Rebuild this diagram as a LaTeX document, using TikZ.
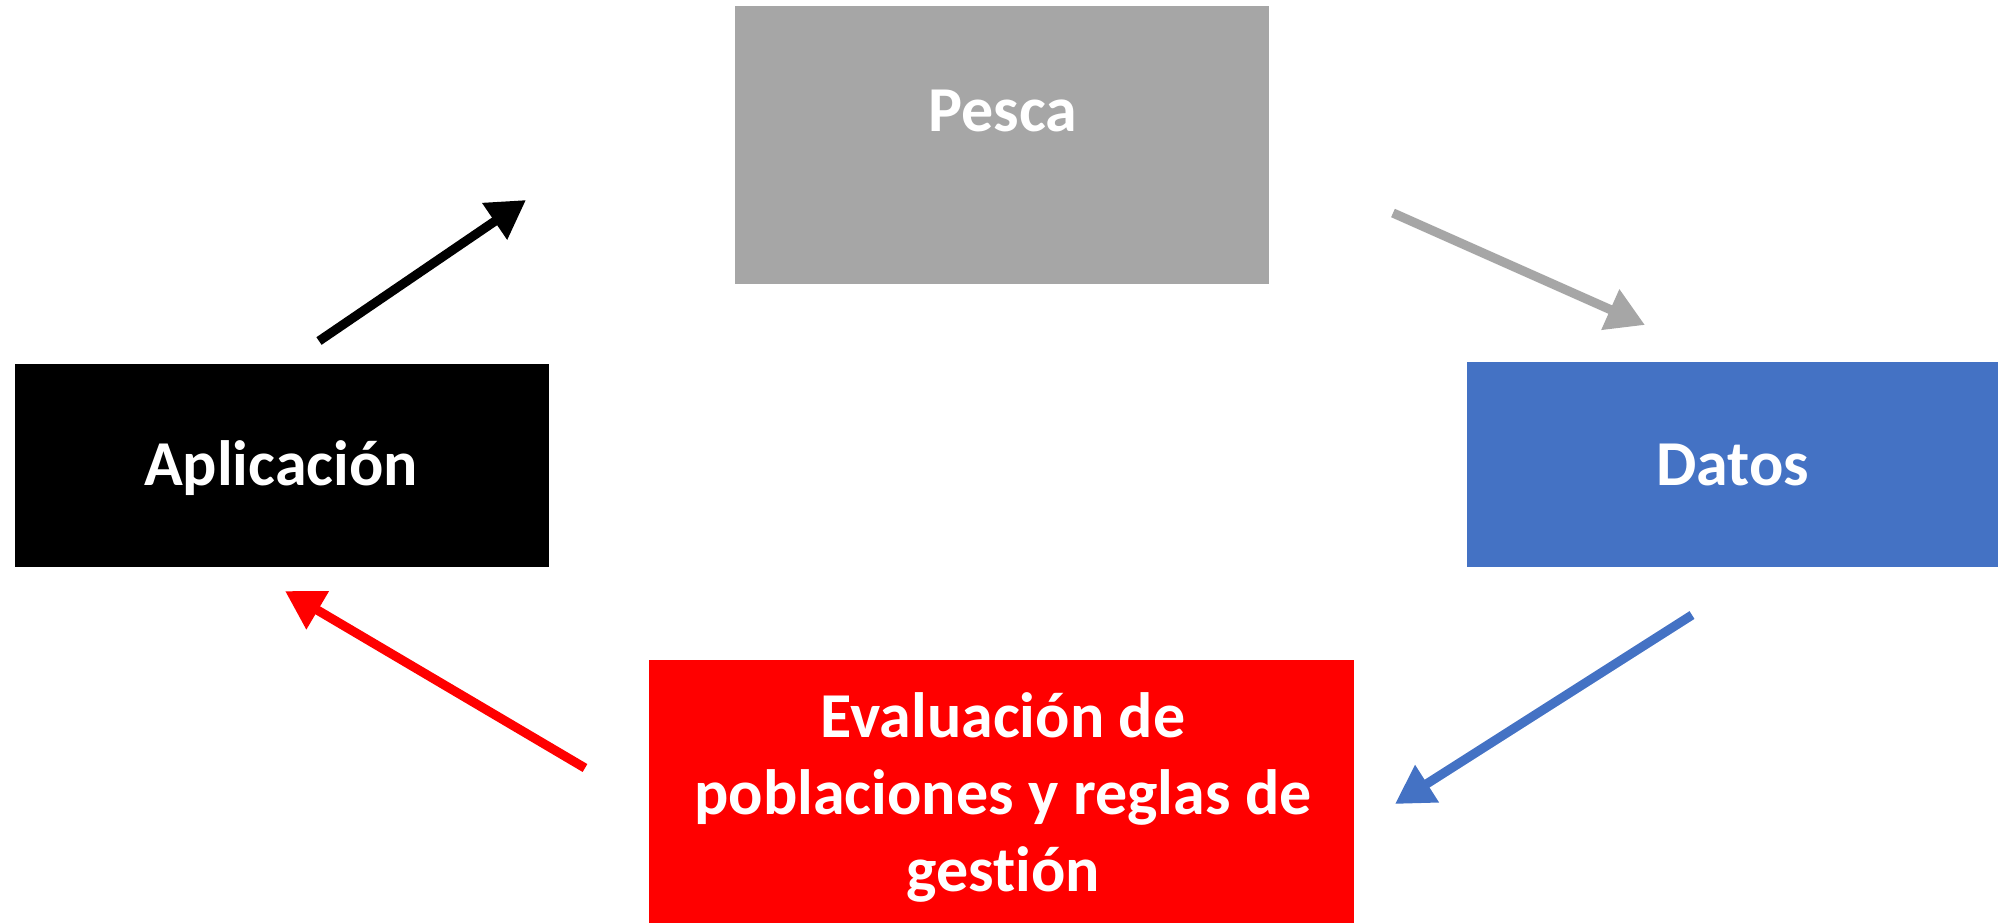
\documentclass[tikz,border=0pt]{standalone}
\usepackage{fontspec}
\setmainfont{Carlito}[Ligatures={NoCommon}]
\usetikzlibrary{arrows.meta}
\definecolor{pgray}{HTML}{A6A6A6}
\definecolor{dblue}{HTML}{4472C4}
\definecolor{ered}{HTML}{FF0000}
\tikzset{
  box/.style={draw=none, inner sep=0pt, outer sep=0pt},
  lbl/.style={text=white, font=\fontsize{32}{38.5}\selectfont\bfseries, inner sep=0pt, align=center},
  conn/.style={line width=4.6pt, line cap=butt, -{Triangle[length=19pt,width=21pt]}}
}
\begin{document}
\begin{tikzpicture}[x=0.5pt,y=-0.5pt]
\useasboundingbox (0,0) rectangle (1998,923);
% boxes
\node[box, fill=pgray, minimum width=267pt, minimum height=139pt] (pesca) at (1002,145) {};
\node[box, fill=black, minimum width=267pt, minimum height=101.5pt] (aplic) at (282,465.5) {};
\node[box, fill=dblue, minimum width=265.5pt, minimum height=102.5pt] (datos) at (1732.5,464.5) {};
\node[box, fill=ered, minimum width=352.5pt, minimum height=131.5pt] (eval) at (1001.5,791.5) {};
% labels
\node[lbl, anchor=base] (pescatxt) at (1003,131) {Pesca};
\node[lbl, anchor=base] (aplictxt) at (281,485) {Aplicación};
\node[lbl, anchor=base] (datostxt) at (1733,485) {Datos};
\node[lbl, anchor=center] (evaltxt) at (1003,797) {Evaluación de\\poblaciones y reglas de\\gestión};
% connector end points
\coordinate (a1) at (319,341); \coordinate (a2) at (526,200);
\coordinate (g1) at (1393,213); \coordinate (g2) at (1645,325);
\coordinate (b1) at (1692,615); \coordinate (b2) at (1395,804);
\coordinate (r1) at (585,768); \coordinate (r2) at (285,591);
\draw[conn, draw=black, fill=black] (a1) -- (a2);
\draw[conn, draw=pgray, fill=pgray] (g1) -- (g2);
\draw[conn, draw=dblue, fill=dblue] (b1) -- (b2);
\draw[conn, draw=ered, fill=ered] (r1) -- (r2);
\end{tikzpicture}
\end{document}
